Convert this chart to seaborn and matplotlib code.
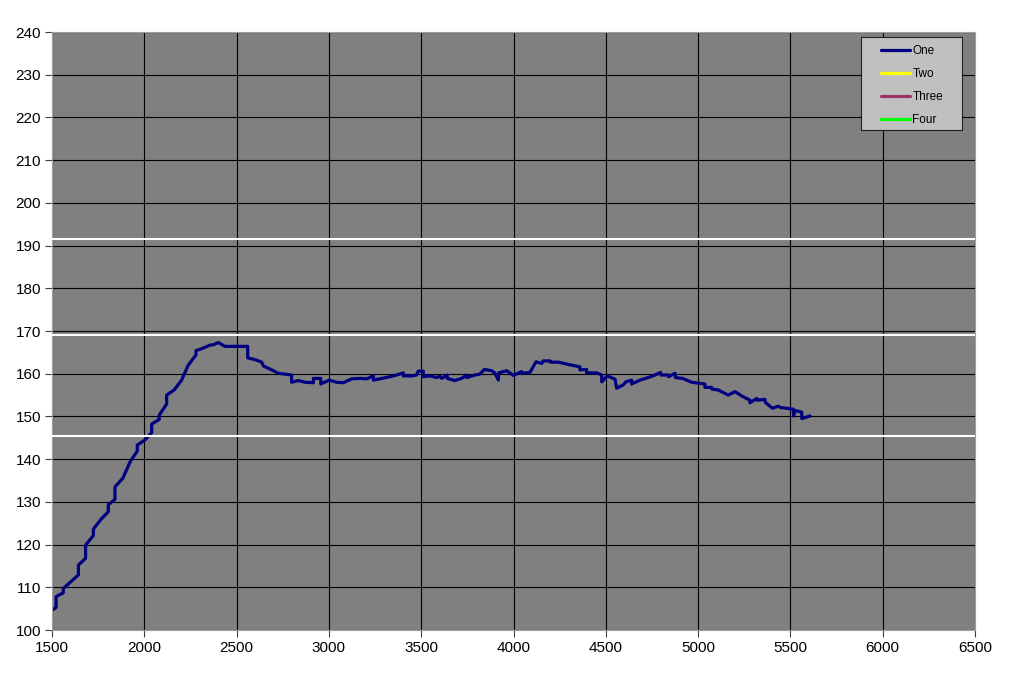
import numpy as np
import pandas as pd
import matplotlib
matplotlib.use("Agg")
import matplotlib.pyplot as plt
from matplotlib.lines import Line2D
from matplotlib.patches import Rectangle
import seaborn as sns

# traced series "One"
one_x = [1507, 1522, 1522, 1561, 1561, 1643, 1643, 1682, 1682, 1724, 1724, 1765,
         1805, 1805, 1841, 1841, 1883, 1926, 1962, 1962, 2004, 2040, 2040, 2081,
         2081, 2121, 2121, 2162, 2202, 2238, 2280, 2280, 2320, 2356, 2375, 2401,
         2437, 2560, 2560, 2600, 2636, 2645, 2690, 2726, 2762, 2798, 2798, 2834,
         2871, 2916, 2916, 2956, 2956, 3001, 3042, 3078, 3124, 3168, 3205, 3241,
         3241, 3286, 3331, 3367, 3403, 3403, 3449, 3475, 3484, 3511, 3511, 3548,
         3584, 3602, 3611, 3641, 3641, 3683, 3719, 3746, 3746, 3791, 3818, 3842,
         3882, 3900, 3918, 3920, 3963, 3999, 4044, 4046, 4089, 4122, 4153, 4161,
         4198, 4200, 4243, 4315, 4360, 4360, 4396, 4396, 4451, 4478, 4478, 4508,
         4550, 4559, 4595, 4609, 4640, 4640, 4685, 4730, 4767, 4797, 4799, 4839,
         4841, 4875, 4877, 4916, 4965, 5001, 5037, 5037, 5073, 5075, 5109, 5163,
         5200, 5236, 5281, 5281, 5317, 5320, 5362, 5364, 5403, 5434, 5445, 5480,
         5516, 5517, 5525, 5561, 5562, 5606]
one_y = [104.8, 105.3, 107.8, 108.7, 109.7, 112.9, 115.2, 116.8, 119.9, 122.1, 123.6, 125.9,
         127.7, 129.3, 130.6, 133.5, 135.5, 139.6, 141.9, 143.3, 144.5, 146.2, 148.2, 149.3,
         150.3, 152.9, 155.0, 156.2, 158.5, 162.0, 164.4, 165.4, 166.0, 166.7, 166.8, 167.3,
         166.4, 166.4, 163.7, 163.3, 162.7, 161.8, 160.9, 160.1, 159.9, 159.7, 158.0, 158.4,
         158.0, 157.9, 158.9, 158.9, 157.6, 158.5, 158.0, 157.9, 158.8, 158.9, 158.8, 159.5,
         158.5, 158.9, 159.3, 159.7, 160.2, 159.5, 159.5, 159.7, 160.6, 160.6, 159.3, 159.5,
         159.1, 159.4, 158.9, 159.7, 158.9, 158.4, 158.9, 159.7, 159.1, 159.7, 159.9, 161.0,
         160.7, 160.1, 158.5, 160.2, 160.7, 159.6, 160.5, 160.1, 160.3, 162.8, 162.4, 163.0,
         163.0, 162.7, 162.7, 162.0, 161.6, 160.9, 161.0, 160.2, 160.2, 159.7, 158.1, 159.5,
         158.7, 156.6, 157.4, 158.1, 158.5, 157.6, 158.5, 159.1, 159.7, 160.3, 159.7, 159.7,
         159.3, 160.1, 159.1, 158.9, 158.0, 157.8, 157.6, 156.8, 156.8, 156.4, 156.2, 155.0,
         155.8, 154.8, 153.8, 153.2, 154.2, 153.8, 154.0, 153.3, 151.9, 152.4, 152.1, 151.9,
         151.7, 150.1, 151.4, 151.0, 149.5, 150.1]

ref_levels = [191.5, 169.1, 145.4]

series_names = ["One", "Two", "Three", "Four"]
series_colors = ["#000080", "#ffff00", "#993366", "#00ff00"]

x_ticks = list(range(1500, 7000, 500))
y_ticks = list(range(100, 250, 10))

sns.set_style("whitegrid", {"axes.facecolor": "#808080", "grid.color": "black",
                            "axes.edgecolor": "#a0a0a0"})
plt.rcParams["font.family"] = ["Liberation Sans", "DejaVu Sans"]

fig = plt.figure(figsize=(10.24, 6.77), dpi=100)
ax = fig.add_axes([52 / 1024, 47 / 677, 923 / 1024, 598 / 677])

df = pd.DataFrame({"x": one_x, "y": one_y})
sns.lineplot(data=df, x="x", y="y", sort=False, estimator=None,
             color=series_colors[0], linewidth=2.3, ax=ax)

for lv in ref_levels:
    ax.axhline(lv, color="white", linewidth=1.5, zorder=3)

ax.set_xlim(1500, 6500)
ax.set_ylim(100, 240)
ax.set_xticks(x_ticks)
ax.set_yticks(y_ticks)
ax.grid(True, color="black", linewidth=0.8)
ax.set_axisbelow(True)
ax.set_xlabel("")
ax.set_ylabel("")
ax.tick_params(axis="both", direction="out", length=5, width=0.8, color="#404040",
               labelsize=11, labelcolor="black", pad=3, bottom=True, left=True)
for s in ax.spines.values():
    s.set_color("#a0a0a0")
    s.set_linewidth(0.8)

# legend box drawn separately so it can be wider than its entries
box = Rectangle((809 / 923, 1 - 98 / 598), 101 / 923, 93 / 598, transform=ax.transAxes,
                facecolor="#c0c0c0", edgecolor="#202020", linewidth=0.8, zorder=5)
ax.add_patch(box)

handles = [Line2D([0], [0], color=c, linewidth=2.3) for c in series_colors]
leg = ax.legend(handles, series_names, loc="upper left",
                bbox_to_anchor=(829 / 923, 1 - 13.5 / 598),
                fontsize=8.5, frameon=False, handlelength=2.45,
                handletextpad=0.2, labelspacing=0.93, borderpad=0, borderaxespad=0,
                labelcolor="black")
leg.set_zorder(6)

fig.savefig("out.png", dpi=100)
